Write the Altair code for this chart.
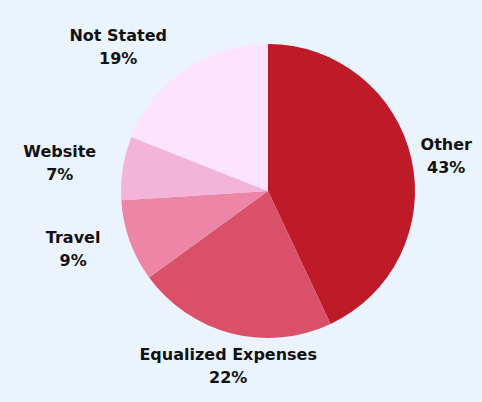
import math
import altair as alt
import pandas as pd

categories = ["Other", "Equalized Expenses", "Travel", "Website", "Not Stated"]
values = [43, 22, 9, 7, 19]
colors = ["#BE1A27", "#DB5069", "#EC85A6", "#F4B3D8", "#FDE3FD"]

labels = [f"{c}\n{v}%" for c, v in zip(categories, values)]
df = pd.DataFrame({"cat": categories, "value": values, "idx": list(range(len(values))), "label": labels})

W, H = 466, 386
CX, CY = 260, 183
R_PIE = 147
theta_scale = alt.Scale(domain=[0, 100], range=[0, 2 * math.pi])

base = alt.Chart(df)

pie = base.mark_arc(outerRadius=R_PIE, stroke=None).encode(
    theta=alt.Theta("value:Q", scale=theta_scale),
    order=alt.Order("idx:Q"),
    color=alt.Color("cat:N", scale=alt.Scale(domain=categories, range=colors), legend=None),
    x=alt.value(CX),
    y=alt.value(CY),
)

# label placement: outside the slice midpoint, text block placed beside the anchor
R_RIGHT, R_BOTTOM, R_LEFT = 156, 160, 174
CHAR_W, LINE_H = 10.4, 23

labels_layer = base.transform_window(
    cum="sum(value)", sort=[alt.SortField("idx")], frame=[None, 0]
).transform_calculate(
    mid="datum.cum - datum.value / 2",
).transform_calculate(
    th="2 * PI * datum.mid / 100",
).transform_calculate(
    s="sin(datum.th)", c="cos(datum.th)",
    w=f"max(length(datum.cat), length(datum.value + '%')) * {CHAR_W}",
).transform_calculate(
    px=(f"datum.s > 0.5 ? {CX} + {R_RIGHT} * datum.s + datum.w / 2 : "
        f"(datum.s < -0.5 ? {CX} + {R_LEFT} * datum.s - datum.w / 2 : {CX} + {R_BOTTOM} * datum.s)"),
    pyc=(f"abs(datum.s) <= 0.5 ? {CY} - {R_BOTTOM} * datum.c + {LINE_H - 2} : "
         f"{CY} - (datum.s > 0 ? {R_RIGHT} : {R_LEFT}) * datum.c"),
).transform_calculate(
    py=f"datum.pyc - {LINE_H / 2}",
).mark_text(
    font="DejaVu Sans", fontSize=16, fontWeight="bold", lineBreak="\n",
    lineHeight=LINE_H, color="#111111", align="center", baseline="middle",
).encode(
    x=alt.X("px:Q", scale=alt.Scale(domain=[0, W], range=[0, W], nice=False, zero=False), axis=None),
    y=alt.Y("py:Q", scale=alt.Scale(domain=[0, H], range=[0, H], nice=False, zero=False), axis=None),
    text="label:N",
)

chart = alt.layer(pie, labels_layer).properties(
    width=W, height=H, background="#EBF3FE", padding=0,
    autosize=alt.AutoSizeParams(type="none"),
).configure_view(stroke=None)

chart.save("out.html", embed_options={"renderer": "svg", "actions": False,
                                      "defaultStyle": "body{background:#EBF3FE}"})
